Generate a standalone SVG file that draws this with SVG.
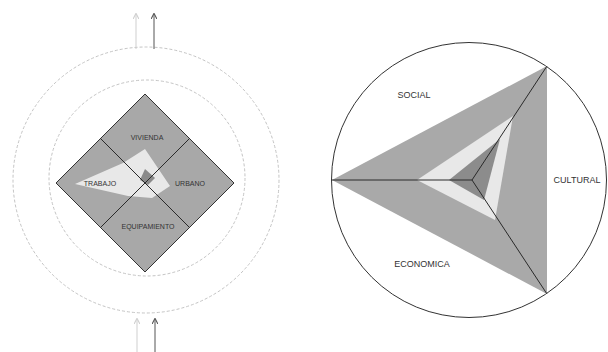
<svg xmlns="http://www.w3.org/2000/svg" width="608" height="352" viewBox="0 0 608 352">
<defs>
<style>
.dash{fill:none;stroke:#c4c4c4;stroke-width:1;stroke-dasharray:3 2}
.lbl{font-family:"Liberation Sans",Arial,sans-serif;fill:#333;text-anchor:middle}
.s{font-size:7px}
.b{font-size:9px}
.ln{stroke:#2a2a2a;stroke-width:1;fill:none}
</style>
<marker id="ahL" viewBox="0 0 8 8" refX="7" refY="4" markerWidth="6" markerHeight="6" orient="auto" markerUnits="userSpaceOnUse">
<path d="M0,0 L8,4 L0,8" fill="none" stroke="#cfcfcf" stroke-width="1.4"/>
</marker>
<marker id="ahD" viewBox="0 0 8 8" refX="7" refY="4" markerWidth="6" markerHeight="6" orient="auto" markerUnits="userSpaceOnUse">
<path d="M0,0 L8,4 L0,8" fill="none" stroke="#555" stroke-width="1.4"/>
</marker>
</defs>
<rect width="608" height="352" fill="#fff"/>

<g id="rings">
<circle class="dash" cx="146" cy="180" r="133"/>
<circle class="dash" cx="147" cy="178" r="98"/>
</g>

<g id="connectors">
<line x1="136" y1="49" x2="136" y2="14" stroke="#cfcfcf" stroke-width="1" marker-end="url(#ahL)"/>
<line x1="154" y1="49" x2="154" y2="14" stroke="#555" stroke-width="1" marker-end="url(#ahD)"/>
<line x1="137" y1="352" x2="137" y2="319" stroke="#cfcfcf" stroke-width="1" marker-end="url(#ahL)"/>
<line x1="155" y1="352" x2="155" y2="319" stroke="#555" stroke-width="1" marker-end="url(#ahD)"/>
</g>

<g id="diamond">
<polygon points="145,94 234,183 145,272 56,183" fill="#a8a8a8" stroke="#333" stroke-width="1"/>
<polygon points="75,184 123,163 145,149 170,186 152,198 128,196" fill="#e8e8e8"/>
<polygon points="145,169 155,178 148,185 140,180" fill="#8a8a8a"/>
<line class="ln" x1="100.5" y1="138.5" x2="189.5" y2="227.5"/>
<line class="ln" x1="189.5" y1="138.5" x2="100.5" y2="227.5"/>
</g>

<g id="vivienda"><text class="lbl s" x="147" y="139.5">VIVIENDA</text></g>
<g id="trabajo"><text class="lbl s" x="100" y="185.5">TRABAJO</text></g>
<g id="urbano"><text class="lbl s" x="190" y="185.5">URBANO</text></g>
<g id="equipamiento"><text class="lbl s" x="148" y="229">EQUIPAMIENTO</text></g>

<g id="radar">
<circle cx="469" cy="180" r="137.5" fill="#fff" stroke="#333" stroke-width="1"/>
<polygon points="332,180 547,66 547,294" fill="#a9a9a9"/>
<polygon points="417,180 513,116 495,220" fill="#e8e8e8"/>
<polygon points="449,180 500,139 484,200" fill="#8c8c8c"/>
<line class="ln" x1="332" y1="180" x2="472" y2="180"/>
<line class="ln" x1="472" y1="180" x2="547" y2="66"/>
<line class="ln" x1="472" y1="180" x2="547" y2="294"/>
</g>

<g id="social"><text class="lbl b" x="414" y="98">SOCIAL</text></g>
<g id="cultural"><text class="lbl b" x="577" y="183">CULTURAL</text></g>
<g id="economica"><text class="lbl b" x="422" y="267">ECONOMICA</text></g>
</svg>
